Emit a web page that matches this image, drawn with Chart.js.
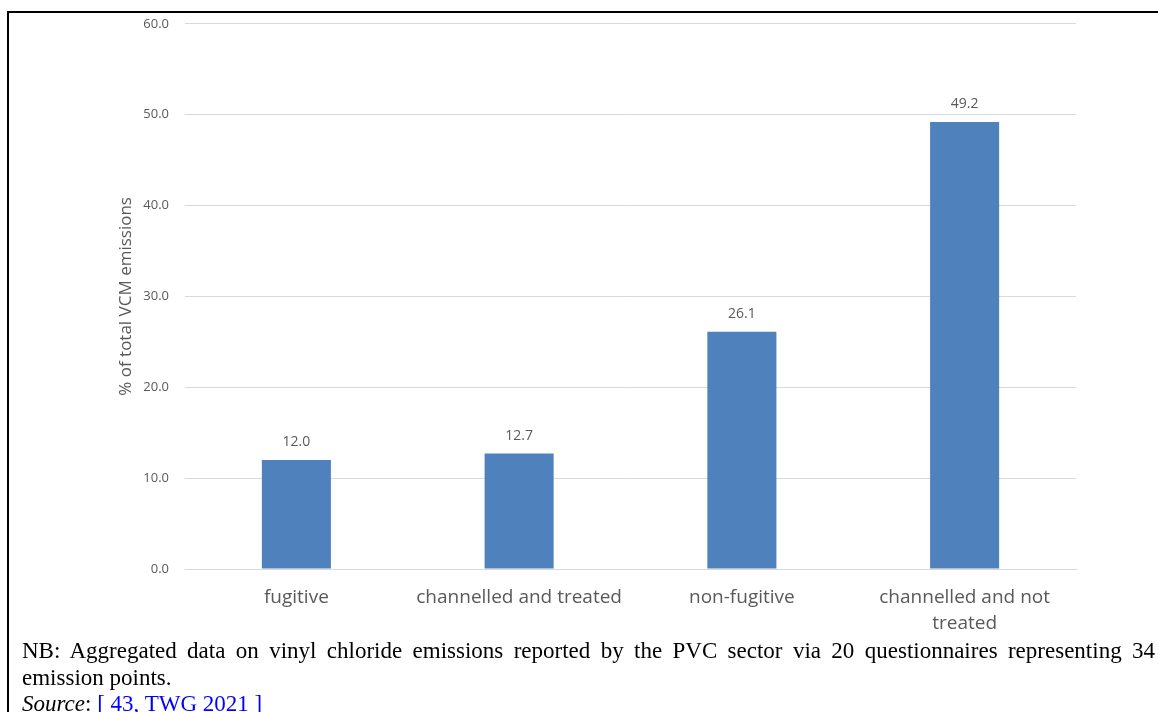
<!DOCTYPE html>
<html>
<head>
<meta charset="utf-8">
<script src="https://cdn.jsdelivr.net/npm/chart.js@4"></script>
<style>
  html, body { margin: 0; padding: 0; background: #fff; }
  body { width: 1158px; height: 712px; position: relative; overflow: hidden; }
  #frame { position: absolute; left: 7px; top: 11px; width: 1200px; height: 800px;
           border-left: 2px solid #000; border-top: 2px solid #000; }
  #wrap { position: absolute; left: 0; top: 0; width: 1158px; height: 640px; }
  #note { position: absolute; left: 22px; top: 638px; width: 1133px;
          font-family: "Liberation Serif", "Times New Roman", serif; font-size: 23px;
          line-height: 26.5px; color: #000; }
  #note .l1 { text-align: justify; text-align-last: justify; white-space: nowrap; }
  #note a { color: #0000ff; text-decoration: none; }
</style>
</head>
<body>
<div id="frame"></div>
<div id="wrap"><canvas id="c" width="1158" height="640"></canvas></div>
<div id="note"><div class="l1">NB: Aggregated data on vinyl chloride emissions reported by the PVC sector via 20 questionnaires representing 34</div><div>emission points.</div><div><i>Source</i>: <a>[ 43, TWG 2021 ]</a></div></div>
<script>
const categories = ['fugitive', 'channelled and treated', 'non-fugitive', ['channelled and not', 'treated']];
const values = [12.0, 12.7, 26.1, 49.2];
const yTicks = [0, 10, 20, 30, 40, 50, 60];
const yTitle = '% of total VCM emissions';

const textGrey = '#595959';

const valueLabels = {
  id: 'valueLabels',
  afterDatasetsDraw(chart) {
    const ctx = chart.ctx;
    const meta = chart.getDatasetMeta(0);
    ctx.save();
    ctx.font = '14px "Open Sans"';
    ctx.fillStyle = textGrey;
    ctx.textAlign = 'center';
    ctx.textBaseline = 'middle';
    meta.data.forEach((bar, i) => {
      ctx.fillText(values[i].toFixed(1), bar.x, bar.y - 17.5);
    });
    ctx.restore();
  }
};

new Chart(document.getElementById('c'), {
  type: 'bar',
  data: {
    labels: categories,
    datasets: [{
      data: values,
      backgroundColor: '#4f81bd',
      borderWidth: 0,
      barPercentage: 0.62,
      categoryPercentage: 0.5
    }]
  },
  options: {
    responsive: false,
    animation: false,
    devicePixelRatio: 1,
    layout: { padding: { left: 0, right: 82, top: 22, bottom: 0 } },
    plugins: { legend: { display: false }, tooltip: { enabled: false } },
    scales: {
      x: {
        grid: { display: false, drawTicks: false },
        border: { display: true, color: '#d9d9d9', width: 1 },
        ticks: { color: textGrey, font: { family: '"Open Sans"', size: 19, lineHeight: 1.4 }, padding: 15, maxRotation: 0, autoSkip: false },
        afterFit(scale) { scale.height = 71; }
      },
      y: {
        min: 0, max: 60,
        afterBuildTicks(scale) { scale.ticks = yTicks.map(v => ({ value: v })); },
        grid: { color: '#d9d9d9', drawTicks: false },
        border: { display: false },
        ticks: { color: textGrey, font: { family: '"Open Sans"', size: 13 }, padding: 16,
                 callback: v => Number(v).toFixed(1) },
        title: { display: true, text: yTitle, color: textGrey,
                 font: { family: '"Open Sans"', size: 17 }, padding: { top: 116 } },
        afterFit(scale) { scale.width = 185; }
      }
    }
  },
  plugins: [valueLabels]
});
</script>
</body>
</html>
